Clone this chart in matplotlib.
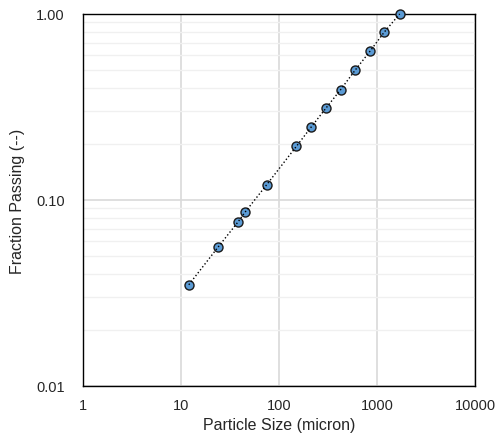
import matplotlib
matplotlib.use("Agg")
import matplotlib.pyplot as plt
from matplotlib.ticker import FixedLocator, FixedFormatter, LogLocator, NullFormatter

plt.rcParams['font.family'] = ['Liberation Sans', 'DejaVu Sans']

size_micron = [12, 24, 38, 45, 75, 150, 212, 300, 425, 600, 850, 1180, 1700]
fraction_passing = [0.035, 0.056, 0.076, 0.086, 0.121, 0.194, 0.246, 0.311, 0.392, 0.50, 0.632, 0.797, 1.00]

x_ticks = [1, 10, 100, 1000, 10000]
x_labels = ['1', '10', '100', '1000', '10000']
y_ticks = [0.01, 0.1, 1.0]
y_labels = ['0.01', '0.10', '1.00']

fig = plt.figure(figsize=(4.97, 4.39), dpi=100)
ax = fig.add_axes([0.167, 0.1185, 0.789, 0.8475])
ax.set_xscale('log')
ax.set_yscale('log')
ax.set_xlim(1, 10000)
ax.set_ylim(0.01, 1.0)

ax.xaxis.set_major_locator(FixedLocator(x_ticks))
ax.xaxis.set_major_formatter(FixedFormatter(x_labels))
ax.xaxis.set_minor_formatter(NullFormatter())
ax.xaxis.set_minor_locator(FixedLocator([]))
ax.yaxis.set_major_locator(FixedLocator(y_ticks))
ax.yaxis.set_major_formatter(FixedFormatter(y_labels))
ax.yaxis.set_minor_locator(LogLocator(base=10, subs=range(2, 10)))
ax.yaxis.set_minor_formatter(NullFormatter())

ax.grid(True, which='major', axis='both', color='#D9D9D9', lw=1.2, zorder=0)
ax.grid(True, which='minor', axis='y', color='#F0F0F0', lw=1.0, zorder=0)
ax.set_axisbelow(True)

ax.tick_params(which='both', length=0, labelsize=10.5, colors='#262626')
ax.tick_params(axis='y', pad=13)
ax.tick_params(axis='x', pad=9)

ax.plot(size_micron, fraction_passing, linestyle='none', marker='o', markersize=6.5,
        markerfacecolor='#5B9BD5', markeredgecolor='#1a1a1a', markeredgewidth=1.0,
        zorder=3, clip_on=False)
ax.plot(size_micron, fraction_passing, linestyle=':', color='#000000', lw=1.0, zorder=4,
        clip_on=False)

for s in ax.spines.values():
    s.set_color('#000000')
    s.set_linewidth(1.0)

ax.set_xlabel('Particle Size (micron)', fontsize=11.5, labelpad=3, color='#262626')
ax.set_ylabel('Fraction Passing (--)', fontsize=11.5, labelpad=8, color='#262626')

fig.savefig('out.png', dpi=100)
